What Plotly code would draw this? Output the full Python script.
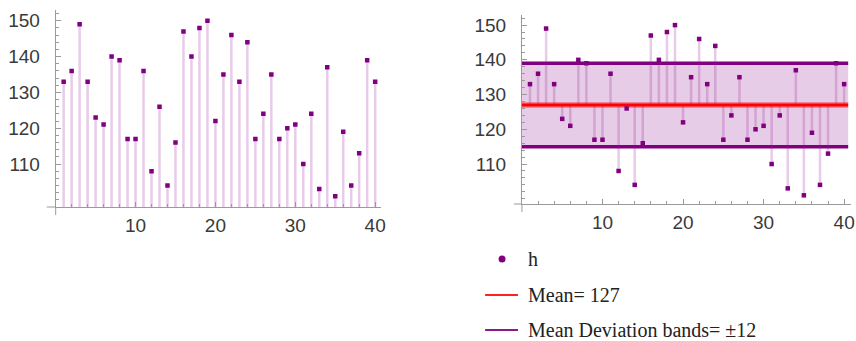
import plotly.graph_objects as go

# ---- data ----
idx = list(range(1, 41))
h = [133, 136, 149, 133, 123, 121, 140, 139, 117, 117,
     136, 108, 126, 104, 116, 147, 140, 148, 150, 122,
     135, 146, 133, 144, 117, 124, 135, 117, 120, 121,
     110, 124, 103, 137, 101, 119, 104, 113, 139, 133]
y_tick_vals = [110, 120, 130, 140, 150]
x_tick_vals = [10, 20, 30, 40]

mean_h = sum(h) / len(h)
md_h = sum(abs(v - mean_h) for v in h) / len(h)
lo_h, hi_h = mean_h - md_h, mean_h + md_h

W, H = 856, 341
def px(x):
    return x / W
def py(y):
    return 1 - y / H

PURPLE = "#800080"
STEM = "rgba(150,20,150,0.22)"
AXC = "#9a9a9a"
TICKFONT = dict(family="Liberation Sans, Arial, sans-serif", size=19, color="#3a3a3a")
SERIF = "Liberation Serif, Times New Roman, serif"

# axis ranges / domains
L_XR, L_YR = [0, 40.7], [98, 153]
R_XR, R_YR = [0, 40.85], [98.5, 152.9]
L_DX, L_DY = [px(56), px(383)], [py(207), py(10)]
R_DX, R_DY = [px(525), 1.0], [py(204), py(15)]
band_x = [0, 40.5]

fig = go.Figure()

# ---- left: stems to axis + points ----
sx, sy = [], []
for i, v in zip(idx, h):
    sx += [i, i, None]
    sy += [L_YR[0], v, None]
fig.add_trace(go.Scatter(x=sx, y=sy, mode="lines", line=dict(color=STEM, width=2.5),
                         xaxis="x", yaxis="y", showlegend=False, hoverinfo="skip"))
fig.add_trace(go.Scatter(x=idx, y=h, mode="markers",
                         marker=dict(symbol="square", size=4.5, color=PURPLE),
                         xaxis="x", yaxis="y", showlegend=False))

# ---- right: band, stems to mean, mean line, points ----
fig.add_trace(go.Scatter(x=band_x, y=[lo_h, lo_h], mode="lines",
                         line=dict(color=PURPLE, width=3.5),
                         xaxis="x2", yaxis="y2", showlegend=False, hoverinfo="skip"))
fig.add_trace(go.Scatter(x=band_x, y=[hi_h, hi_h], mode="lines", fill="tonexty",
                         fillcolor="rgba(128,0,128,0.2)",
                         line=dict(color=PURPLE, width=3.5),
                         xaxis="x2", yaxis="y2", showlegend=False, hoverinfo="skip"))
rx, ry = [], []
for i, v in zip(idx, h):
    rx += [i, i, None]
    ry += [mean_h, v, None]
fig.add_trace(go.Scatter(x=rx, y=ry, mode="lines", line=dict(color=STEM, width=2.5),
                         xaxis="x2", yaxis="y2", showlegend=False, hoverinfo="skip"))
fig.add_trace(go.Scatter(x=band_x, y=[mean_h, mean_h], mode="lines",
                         line=dict(color="rgba(255,0,0,0.35)", width=6),
                         xaxis="x2", yaxis="y2", showlegend=False, hoverinfo="skip"))
fig.add_trace(go.Scatter(x=band_x, y=[mean_h, mean_h], mode="lines",
                         line=dict(color="#ff0000", width=3),
                         xaxis="x2", yaxis="y2", showlegend=False, hoverinfo="skip"))
fig.add_trace(go.Scatter(x=idx, y=h, mode="markers",
                         marker=dict(symbol="square", size=4.5, color=PURPLE),
                         xaxis="x2", yaxis="y2", showlegend=False))

def xax(domain, rng, anchor):
    return dict(domain=domain, range=rng, anchor=anchor, showgrid=False, zeroline=False,
                showline=True, linecolor=AXC, linewidth=1,
                tickvals=x_tick_vals, ticks="inside", ticklen=5, tickcolor=AXC,
                tickfont=TICKFONT, ticklabelstandoff=1,
                minor=dict(dtick=2, tick0=0, ticks="inside", ticklen=3, tickcolor=AXC))

def yax(domain, rng, anchor):
    return dict(domain=domain, range=rng, anchor=anchor, showgrid=False, zeroline=False,
                showline=True, linecolor=AXC, linewidth=1,
                tickvals=y_tick_vals, ticks="inside", ticklen=5, tickcolor=AXC,
                tickfont=TICKFONT, ticklabelstandoff=11,
                minor=dict(dtick=2, tick0=0, ticks="inside", ticklen=3, tickcolor=AXC))

shapes = []
# axis overhangs (Mathematica-style crossing axes)
for (x0, x1, y0, y1) in [(47, 56, 207, 207), (56, 56, 207, 215),
                         (517, 525, 204, 204), (525, 525, 204, 212)]:
    shapes.append(dict(type="line", xref="paper", yref="paper",
                       x0=px(x0), x1=px(x1), y0=py(y0), y1=py(y1),
                       line=dict(color=AXC, width=1)))
# legend swatches
shapes.append(dict(type="circle", xref="paper", yref="paper",
                   x0=px(501.5), x1=px(508.5), y0=py(262.5), y1=py(255.5),
                   fillcolor=PURPLE, line=dict(width=0)))
shapes.append(dict(type="line", xref="paper", yref="paper",
                   x0=px(488), x1=px(521), y0=py(295), y1=py(295),
                   line=dict(color="#ff2020", width=2)))
shapes.append(dict(type="line", xref="paper", yref="paper",
                   x0=px(488), x1=px(521), y0=py(330), y1=py(330),
                   line=dict(color="#8a1a8a", width=2)))

legend_texts = ["h", f"Mean= {round(mean_h)}", f"Mean Deviation bands= \u00b1{round(md_h)}"]
legend_ys = [259, 295, 330]
annotations = [dict(text=t, xref="paper", yref="paper", x=px(529), y=py(yy),
                    xanchor="left", yanchor="middle", showarrow=False,
                    font=dict(family=SERIF, size=20, color="#222222"))
               for t, yy in zip(legend_texts, legend_ys)]

fig.update_layout(
    width=W, height=H, autosize=False,
    margin=dict(l=0, r=0, t=0, b=0),
    paper_bgcolor="white", plot_bgcolor="white",
    xaxis=xax(L_DX, L_XR, "y"), yaxis=yax(L_DY, L_YR, "x"),
    xaxis2=xax(R_DX, R_XR, "y2"), yaxis2=yax(R_DY, R_YR, "x2"),
    shapes=shapes, annotations=annotations, showlegend=False,
)

fig.write_html("out.html", config={"displayModeBar": False},
               post_script="document.body.style.margin='0px';document.body.style.overflow='hidden';")
